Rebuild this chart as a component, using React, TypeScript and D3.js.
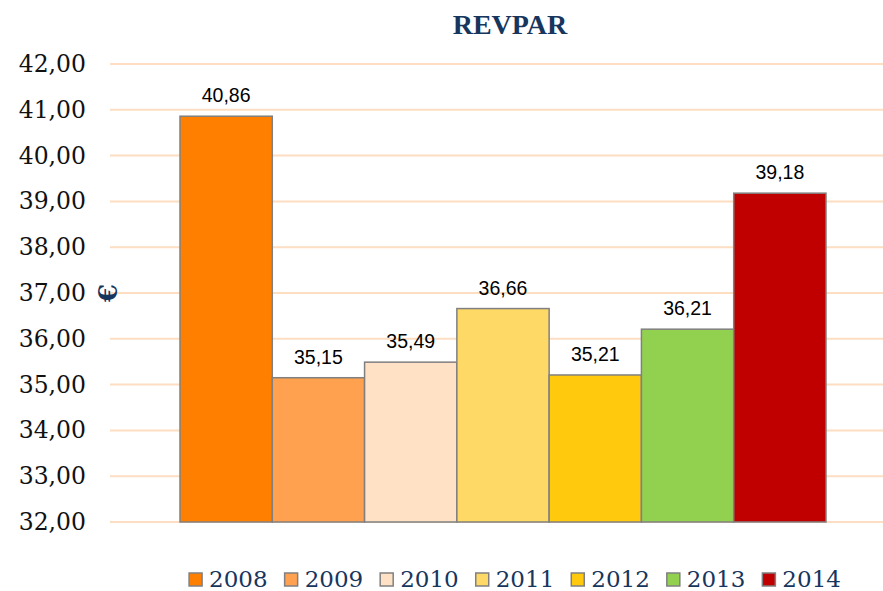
import { useEffect, useRef } from 'react'
import * as d3 from 'd3'

// REVPAR per year (€)
const years: string[] = ['2008', '2009', '2010', '2011', '2012', '2013', '2014']
const revpar: number[] = [40.86, 35.15, 35.49, 36.66, 35.21, 36.21, 39.18]
const barColors: string[] = ['#FF8000', '#FFA14F', '#FFE1C6', '#FFD966', '#FFC90D', '#92D050', '#C00000']
const yTicks: number[] = [32, 33, 34, 35, 36, 37, 38, 39, 40, 41, 42]

const W = 883
const H = 591
const navy = '#17365D'
const serif = '"DejaVu Serif", Georgia, serif'
const fmt = (v: number) => d3.format('.2f')(v).replace('.', ',')

export default function App() {
  const svgRef = useRef<SVGSVGElement>(null)

  useEffect(() => {
    document.body.style.margin = '0'
    if (!svgRef.current) return
    const svg = d3.select(svgRef.current)
    svg.selectAll('*').remove()

    const plot = { left: 110, right: 883, top: 64, bottom: 522 }

    const y = d3.scaleLinear().domain([32, 42]).range([plot.bottom, plot.top])
    const x = d3.scaleBand<string>().domain(years).range([180, 826]).padding(0)

    // title
    svg.append('text')
      .attr('x', 510)
      .attr('y', 34)
      .attr('text-anchor', 'middle')
      .attr('fill', navy)
      .style('font-family', '"Liberation Serif", "Times New Roman", serif')
      .style('font-weight', 700)
      .style('font-size', '28px')
      .text('REVPAR')

    // gridlines
    svg.append('g')
      .selectAll('line')
      .data(yTicks)
      .enter()
      .append('line')
      .attr('x1', plot.left)
      .attr('x2', plot.right)
      .attr('y1', (d) => y(d))
      .attr('y2', (d) => y(d))
      .attr('stroke', '#FDDEC2')
      .attr('stroke-width', 2)

    // y tick labels
    svg.append('g')
      .selectAll('text')
      .data(yTicks)
      .enter()
      .append('text')
      .attr('x', 86)
      .attr('y', (d) => y(d) + 8)
      .attr('text-anchor', 'end')
      .attr('fill', '#111')
      .style('font-family', serif)
      .style('font-size', '23.5px')
      .text((d) => fmt(d))

    // axis title (euro)
    svg.append('text')
      .attr('transform', `translate(117,${(plot.top + plot.bottom) / 2}) rotate(-90)`)
      .attr('text-anchor', 'middle')
      .attr('fill', navy)
      .style('font-family', serif)
      .style('font-weight', 700)
      .style('font-size', '26px')
      .text('€')

    const data = years.map((yr, i) => ({ yr, v: revpar[i], c: barColors[i] }))

    // bars
    svg.append('g')
      .selectAll('rect')
      .data(data)
      .enter()
      .append('rect')
      .attr('x', (d) => x(d.yr)!)
      .attr('y', (d) => y(d.v))
      .attr('width', x.bandwidth())
      .attr('height', (d) => y(32) - y(d.v))
      .attr('fill', (d) => d.c)
      .attr('stroke', '#808080')
      .attr('stroke-width', 1.5)

    // value labels
    svg.append('g')
      .selectAll('text')
      .data(data)
      .enter()
      .append('text')
      .attr('x', (d) => x(d.yr)! + x.bandwidth() / 2)
      .attr('y', (d) => y(d.v) - 14)
      .attr('text-anchor', 'middle')
      .attr('fill', '#000')
      .style('font-family', '"Liberation Sans", Arial, sans-serif')
      .style('font-size', '19.5px')
      .text((d) => fmt(d.v))

    // legend, laid out from measured text widths
    const lg = svg.append('g')
    const items = data.map((d) => {
      const g = lg.append('g')
      g.append('rect')
        .attr('width', 13)
        .attr('height', 13)
        .attr('y', 573)
        .attr('fill', d.c)
        .attr('stroke', '#808080')
        .attr('stroke-width', 1.5)
      const t = g.append('text')
        .attr('x', 20)
        .attr('y', 587)
        .attr('fill', navy)
        .style('font-family', serif)
        .style('font-size', '23px')
        .text(d.yr)
      const w = 20 + (t.node() as SVGTextElement).getComputedTextLength()
      return { g, w }
    })
    const gap = 17
    const total = d3.sum(items, (it) => it.w) + gap * (items.length - 1)
    let cx = 515 - total / 2
    items.forEach((it) => {
      it.g.attr('transform', `translate(${cx},0)`)
      cx += it.w + gap
    })
  }, [])

  return <svg ref={svgRef} width={W} height={H} style={{ display: 'block', background: '#fff' }} />
}
